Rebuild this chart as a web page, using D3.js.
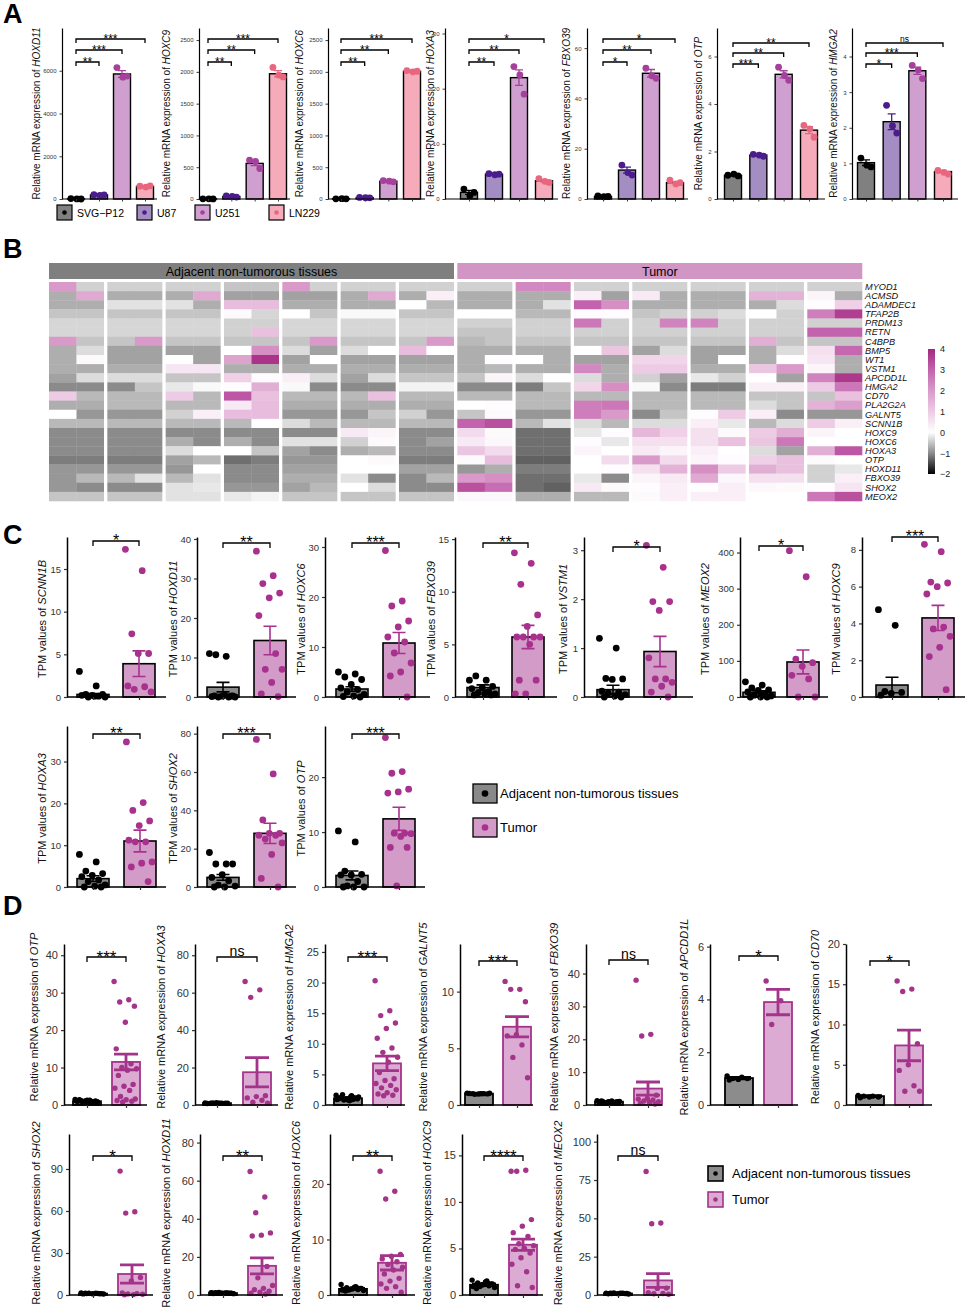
<!DOCTYPE html>
<html lang="en">
<head>
<meta charset="UTF-8">
<title>HOX gene expression figure</title>
<script src="https://cdn.jsdelivr.net/npm/d3@7"></script>
<style>
  body { margin: 0; background: #fff; }
  svg { display: block; font-family: 'Liberation Sans', Arial, sans-serif; }
</style>
</head>
<body>
<script>
// ---------- data: panel A (cell lines) ----------
const cellLines = ['SVG-P12', 'U87', 'U251', 'LN229'];
const aGenes = ['HOXD11', 'HOXC9', 'HOXC6', 'HOXA3', 'FBXO39', 'OTP', 'HMGA2'];
const aTicks = [[0, 2000, 4000, 6000], [0, 500, 1000, 1500, 2000, 2500], [0, 500, 1000, 1500, 2000, 2500],
  [0, 10, 20, 30], [0, 20, 40, 60], [0, 2, 4, 6], [0, 1, 2, 3, 4]];
const aMeans = [[5, 190, 5850, 590], [3, 40, 560, 1970], [4, 22, 280, 2010], [1.2, 4.5, 22, 3.3],
  [1.0, 11.5, 50, 6.5], [1.0, 1.85, 5.25, 2.9], [1.02, 2.17, 3.6, 0.77]];
const aSems = [[2, 12, 160, 25], [1, 5, 35, 50], [1, 3, 10, 12], [0.35, 0.1, 1.4, 0.2],
  [0.1, 1.2, 1.5, 0.4], [0.03, 0.03, 0.15, 0.15], [0.08, 0.22, 0.1, 0.03]];
const aPoints = [
  [[20, 5, 0], [200, 170, 195], [6150, 5700, 5750], [600, 560, 615]],
  [[2, 3, 1], [50, 40, 30], [610, 590, 480], [2070, 1950, 1920]],
  [[3, 5, 2], [25, 20, 18], [290, 280, 270], [2020, 2000, 2010]],
  [[1.8, 0.6, 1.2], [4.6, 4.4, 4.5], [24, 22.5, 19], [3.7, 3.2, 3.0]],
  [[1.2, 0.9, 1.0], [13.5, 10.5, 9.5], [52, 49, 48], [7.5, 6.0, 6.5]],
  [[1.0, 1.05, 0.97], [1.88, 1.85, 1.8], [5.55, 5.2, 5.0], [3.1, 2.95, 2.6]],
  [[1.15, 0.95, 0.9], [2.63, 2.05, 1.85], [3.75, 3.62, 3.38], [0.8, 0.75, 0.7]]
];
const aSig = [['**', '***', '***'], ['**', '**', '***'], ['**', '**', '***'], ['**', '**', '*'],
  ['*', '**', '*'], ['***', '**', '**'], ['*', '***', 'ns']];

// ---------- data: panel B (heatmap, z-scores) ----------
const heatGenes = ['MYOD1', 'ACMSD', 'ADAMDEC1', 'TFAP2B', 'PRDM13', 'RETN', 'C4BPB', 'BMP5', 'WT1', 'VSTM1',
  'APCDD1L', 'HMGA2', 'CD70', 'PLA2G2A', 'GALNT5', 'SCNN1B', 'HOXC9', 'HOXC6', 'HOXA3', 'OTP', 'HOXD11',
  'FBXO39', 'SHOX2', 'MEOX2'];
const heatAdj = [
  [2.0, -0.4, -0.4, -0.4, -0.4, -0.4, -0.5, -0.5, 2.0, -0.4, -0.4, -0.4, -0.4, -0.4],
  [-0.7, 1.7, -0.7, -0.7, -0.7, 1.7, -0.8, -0.8, -0.8, -0.8, -0.7, 1.7, -0.7, 0.3],
  [-0.7, -0.7, -0.25, -0.25, -0.25, -0.7, 1.3, 1.3, -0.7, -0.7, -0.7, -0.7, 0.0, -0.6],
  [-0.5, -0.5, -0.5, -0.5, -0.5, -0.5, 0.1, -0.35, 0.0, -0.5, -0.05, -0.05, -0.5, -0.5],
  [-0.35, -0.35, -0.35, -0.35, -0.35, -0.35, -0.4, -0.4, -0.35, -0.35, -0.35, -0.35, -0.35, -0.35],
  [-0.35, -0.35, -0.35, -0.35, -0.35, -0.35, -0.4, 1.2, -0.35, -0.35, -0.35, -0.35, -0.35, -0.35],
  [2.0, -0.5, -0.5, 2.0, -0.5, -0.5, -0.5, -0.5, -0.5, 2.0, -0.5, -0.5, -0.5, 2.0],
  [-0.7, -0.3, -0.8, -0.8, -0.8, -0.8, 0.0, 2.2, -0.3, -0.8, -0.3, 0.0, 1.3, 0.0],
  [-0.7, 0.1, -0.8, -0.8, 0.0, -0.8, 1.8, 3.8, -0.8, 0.0, -0.8, -0.8, -0.8, -0.8],
  [-0.7, -0.7, -0.7, -0.7, 0.5, 0.5, -0.7, -0.7, -0.7, -0.7, -0.7, -0.7, -0.7, -0.7],
  [-0.8, -0.3, -0.3, -0.3, -0.5, -0.5, 0.9, 0.05, 0.3, -0.3, -0.8, -0.3, -0.5, -0.5],
  [-1.0, -1.0, -1.0, -0.5, -0.2, -0.05, 0.05, 1.6, -0.05, -1.0, -1.0, -1.0, -0.1, -0.1],
  [1.0, -0.6, -0.6, -0.6, 1.0, -0.6, 3.2, 1.2, -0.6, -0.6, -0.6, 1.2, -0.6, -0.6],
  [-0.7, -0.7, -0.6, -0.6, -0.6, -0.6, 0.4, 1.3, -0.7, -0.7, -0.7, -0.7, -0.7, -0.7],
  [0.0, -0.9, -0.9, -0.9, -0.4, 0.3, 1.3, 1.3, -0.9, -0.9, -0.9, -0.5, -0.4, -0.9],
  [-0.6, -0.6, -0.6, -0.6, -0.6, -0.6, -0.6, 0.0, -0.3, -0.6, -0.6, -0.6, -0.6, -0.6],
  [-1.0, -1.0, -1.0, -1.0, -1.0, -1.0, -1.0, -1.0, -1.0, -1.0, 0.4, 0.2, -1.0, -1.0],
  [-1.0, -1.0, -1.0, -1.0, -0.7, -1.0, -0.7, -1.0, -0.25, -0.25, -0.4, 0.1, -1.0, -0.8],
  [-1.0, -1.0, -1.0, -1.0, -0.3, 0.0, 0.0, -0.5, -0.8, -1.0, -0.7, -0.6, -1.0, -1.0],
  [-1.1, -1.1, -1.1, -1.1, -0.8, -0.6, -1.2, -1.1, -0.9, -0.9, 0.0, 0.1, -1.1, -1.1],
  [-0.9, -0.9, -0.9, -0.9, -0.9, 0.0, -1.0, -1.0, -0.8, -0.8, 0.0, 0.0, -0.8, -0.8],
  [-0.9, -0.6, -0.6, -0.25, -0.6, -0.25, -1.0, -1.0, -0.7, -0.7, -0.25, -1.0, -1.0, -0.6],
  [-0.9, -1.0, -1.0, -1.0, -0.25, -0.2, -0.9, -0.9, -0.8, -0.6, 0.0, -0.3, -1.0, -1.0],
  [-0.5, -0.5, -0.5, -0.5, -0.25, -0.25, -0.2, -0.1, -0.5, -0.5, -0.5, -0.5, -0.5, -0.5]
];
const heatTum = [
  [-0.4, -0.4, 2.3, 2.3, -0.4, -0.4, -0.4, -0.4, -0.4, -0.4, -0.4, -0.4, -0.4, -0.4],
  [-0.7, -0.7, -0.7, -0.7, 0.3, -0.8, 0.4, -0.7, -0.7, -0.7, 1.5, 1.5, 0.2, -0.7],
  [-0.7, -0.7, -0.7, -0.25, 3.0, 2.2, -0.7, -0.7, -0.7, -0.7, -0.7, -0.3, 0.05, 0.9],
  [0.0, 0.0, -0.6, -0.6, 0.05, 0.05, -0.5, -0.4, -0.4, -0.3, 0.0, -0.4, 2.5, 3.6],
  [-0.4, -0.4, -0.4, -0.4, 2.6, -0.4, -0.4, 2.4, 2.4, -0.4, -0.4, -0.4, -0.4, -0.4],
  [-0.5, -0.5, -0.4, -0.4, -0.4, -0.4, -0.4, -0.4, -0.4, -0.4, -0.4, -0.4, 3.0, 3.0],
  [-0.6, -0.5, -0.5, -0.5, -0.5, -0.5, -0.5, -0.5, -0.5, -0.5, 1.6, -0.5, -0.5, -0.5],
  [-0.7, -0.7, -0.7, -0.7, 0.0, 1.1, -0.8, -0.3, -0.8, -0.8, -0.7, -0.3, 0.6, 2.9],
  [-0.7, 0.05, 0.0, -0.7, -0.8, -0.8, 0.8, 0.8, -0.8, 0.0, -0.7, 0.0, 0.5, -0.7],
  [-0.7, -0.6, -0.7, -0.7, 2.3, -0.7, 1.0, 1.0, -0.7, -0.7, 1.1, 2.0, 0.2, -0.7],
  [-0.5, 0.2, -0.3, 0.0, -0.3, -0.7, -0.4, -0.8, -0.2, -0.4, 0.0, -0.8, 2.4, 3.7],
  [-1.0, -1.0, -1.1, -0.5, 0.8, 2.2, -0.05, -1.0, -1.1, -1.1, 0.3, 0.3, 1.0, 2.6],
  [-0.6, -0.6, -0.6, -0.6, -0.6, -0.6, -0.6, -0.6, -0.6, -0.6, -0.5, -0.5, -0.5, 1.2],
  [0.0, 0.05, -0.6, -0.6, 2.5, 2.6, -0.6, -0.6, -0.6, -0.6, -0.3, -0.5, 1.5, 1.9],
  [-0.5, 0.1, -0.9, -0.9, 2.5, 2.0, -1.0, -0.5, 0.05, 1.0, 0.3, -1.0, -0.9, -0.9],
  [3.0, 3.3, -0.6, -0.25, -0.3, -0.6, -0.3, -0.3, 0.3, -0.2, -0.6, -0.3, 1.0, 0.3],
  [0.7, 0.1, -1.2, -1.2, -0.2, 0.05, 1.4, 0.9, 0.6, 0.1, 1.0, 1.6, 0.2, 0.0],
  [0.4, 0.15, -1.2, -1.2, 0.05, -0.2, 0.6, 0.6, 0.6, 1.2, 1.1, 2.6, 0.0, 0.0],
  [1.1, 0.7, -1.2, -1.2, 0.2, 0.0, 0.4, 0.2, 0.3, 0.0, -0.3, -0.8, 1.6, 3.2],
  [0.1, 1.3, -1.3, -1.3, 0.0, 0.7, 2.0, 0.7, 0.2, 0.05, 0.9, 1.2, 0.1, 0.0],
  [-0.9, -0.7, -1.1, -1.1, 0.0, 0.05, 0.6, 1.5, 2.2, 1.0, 1.6, 1.2, -0.4, -0.2],
  [2.0, 2.2, -1.2, -1.2, -0.2, -1.0, 0.2, 0.4, 1.7, 0.15, 0.6, 0.6, -0.4, 0.3],
  [3.3, 2.8, -1.2, -1.3, 0.4, 0.1, 0.05, 0.3, 0.05, 0.3, 0.15, 0.1, 0.05, 0.5],
  [0.15, 0.15, -0.7, -0.7, -0.6, -0.6, 0.1, 0.3, 0.3, 0.3, 0.0, 0.0, 2.6, 3.3]
];
const heatLegendTicks = [-2, -1, 0, 1, 2, 3, 4];

// ---------- data: panel C (TPM values) ----------
const tissueGroups = ['Adjacent non-tumorous tissues', 'Tumor'];
const cGenes = ['SCNN1B', 'HOXD11', 'HOXC6', 'FBXO39', 'VSTM1', 'MEOX2', 'HOXC9', 'HOXA3', 'SHOX2', 'OTP'];
const cTicks = [[0, 5, 10, 15], [0, 10, 20, 30, 40], [0, 10, 20, 30], [0, 5, 10, 15], [0, 1, 2, 3],
  [0, 100, 200, 300, 400], [0, 2, 4, 6, 8], [0, 10, 20, 30], [0, 20, 40, 60, 80], [0, 10, 20]];
const cMeans = [[0.3, 3.9], [2.5, 14.3], [1.6, 10.8], [0.9, 5.7], [0.15, 0.93], [13, 97], [0.65, 4.3],
  [2.0, 11.0], [5.0, 28.0], [2.1, 12.4]];
const cSems = [[0.1, 1.5], [1.2, 3.6], [0.45, 2.1], [0.25, 1.1], [0.09, 0.31], [4, 33], [0.42, 0.68],
  [0.7, 2.6], [1.5, 5.3], [0.8, 2.1]];
const cSig = ['*', '**', '***', '**', '*', '*', '***', '**', '***', '***'];
const cAdjPts = [
  [3.0, 1.3, 0.3, 0.3, 0.2, 0.2, 0.1, 0.0, 0.0, 0.1],
  [11, 10.3, 10.7, 0.3, 0.2, 0.1, 0, 0, 0, 0.5, 0.3, 0.2],
  [5.0, 4.6, 4.0, 3.5, 2.5, 1.8, 1.5, 1.0, 0.5, 0.2, 0.1, 0.0],
  [1.6, 1.6, 2.0, 1.0, 0.9, 0.8, 0.5, 0.4, 0.3, 0.3, 0.2, 0.2],
  [1.2, 1.0, 0.38, 0.37, 0.36, 0.12, 0.1, 0.08, 0.05, 0.02, 0, 0],
  [42, 33, 25, 20, 18, 14, 10, 5, 3, 0, 0, 0],
  [4.75, 3.9, 0.3, 0.25, 0.2, 0.1],
  [7.8, 6.0, 3.8, 3.2, 2.8, 2.5, 1.7, 1.3, 0.5, 0.2, 0, 0],
  [18, 12, 12, 12, 6.5, 5, 3.2, 1, 0.5, 0, 0],
  [10.2, 8.2, 2.9, 2.3, 2.2, 2.2, 1.0, 0.2, 0, 0, 0]
];
const cTumPts = [
  [17.3, 14.8, 7.4, 5.1, 5.1, 1.3, 1.2, 0.9, 0.6],
  [36.9, 30.7, 28.7, 26.3, 25.1, 20.6, 11, 7, 7, 3.7, 0.8, 0.1],
  [29.3, 19.2, 18.2, 15.2, 14, 12, 11, 8.8, 6.8, 5, 4.2, 0],
  [13.7, 12.7, 10.7, 7.8, 6.7, 5.7, 5.7, 5.7, 5.7, 5.0, 1.6, 1.6, 0.3, 0.3],
  [3.1, 2.65, 1.95, 1.95, 1.77, 0.8, 0.37, 0.37, 0.3, 0.22, 0.1, 0.0],
  [405, 333, 105, 95, 85, 60, 50, 0, 0],
  [8.3, 7.9, 6.25, 6.2, 6.0, 5.6, 3.8, 3.7, 3.3, 2.7, 2.2, 0.4],
  [34.7, 20.2, 18.3, 15.8, 14.7, 11.2, 10.8, 10.8, 6.0, 5.7, 4.8, 1.3],
  [77, 59, 35, 28, 28, 27, 27, 25, 23, 17, 4.5, 0],
  [27.2, 21, 20.7, 17.8, 17.3, 17.1, 9.8, 9.8, 9.7, 9.2, 7.2, 7.2, 0.2]
];

// ---------- data: panel D (qPCR, clinical samples) ----------
const dGenes = ['OTP', 'HOXA3', 'HMGA2', 'GALNT5', 'FBXO39', 'APCDD1L', 'CD70', 'SHOX2', 'HOXD11', 'HOXC6', 'HOXC9', 'MEOX2'];
const dTicks = [[0, 10, 20, 30, 40], [0, 20, 40, 60, 80], [0, 5, 10, 15, 20, 25], [0, 5, 10], [0, 10, 20, 30, 40],
  [0, 2, 4, 6], [0, 5, 10, 15, 20], [0, 30, 60, 90], [0, 20, 40, 60, 80], [0, 10, 20], [0, 5, 10, 15], [0, 25, 50, 75, 100]];
const dMeans = [[1.0, 11.5], [1.0, 17.5], [1.1, 6.8], [1.0, 6.9], [1.0, 5.0], [1.02, 3.9], [1.1, 7.4],
  [1.0, 15], [1.0, 15.3], [1.1, 5.8], [1.1, 5.4], [1.0, 9.5]];
const dSems = [[0.1, 2.1], [0.05, 7.8], [0.1, 1.2], [0.02, 0.9], [0.05, 2.0], [0.03, 0.48], [0.05, 1.9],
  [0.05, 6.5], [0.05, 4.2], [0.08, 1.3], [0.08, 0.6], [0.05, 4.5]];
const dSig = ['***', 'ns', '***', '***', 'ns', '*', '*', '*', '**', '**', '****', 'ns'];
const dAdjPts = [
  [1.5, 1.3, 1.2, 1.1, 1.0, 1.0, 0.9, 0.9, 0.8, 0.8, 1.4, 0.7, 1.1, 1.2, 0.9, 1.0, 0.8, 1.3, 1.1, 0.9],
  [1.1, 1.0, 0.9, 1.0, 1.2, 0.8, 1.0, 1.1, 0.9, 1.0],
  [1.6, 1.4, 1.2, 1.1, 1.0, 1.0, 0.9, 0.8, 1.3, 0.7, 1.2, 1.1, 1.0, 0.9, 1.5, 1.7, 1.0, 0.8, 1.1, 1.2],
  [1.05, 1.0, 1.0, 0.98, 0.97, 1.02, 1.0, 0.95, 1.03, 1.0],
  [1.3, 1.2, 1.1, 1.0, 1.0, 0.9, 0.8, 0.7, 1.1, 1.0, 1.2, 0.9],
  [1.1, 1.05, 1.0, 1.0, 0.97, 0.95],
  [1.2, 1.1, 1.1, 1.0, 1.0, 0.9],
  [1.5, 1.2, 1.0, 1.0, 0.9, 0.8, 1.1, 1.3, 0.7, 1.0, 1.2, 0.9],
  [1.2, 1.1, 1.0, 1.0, 0.9, 0.8, 1.1, 1.3, 0.7, 1.0, 1.2, 0.9, 1.0, 1.1, 0.9],
  [1.9, 1.5, 1.3, 1.2, 1.1, 1.0, 1.0, 0.9, 0.8, 1.4, 0.7, 1.2, 1.1, 0.9, 1.3, 1.0],
  [1.6, 1.5, 1.3, 1.2, 1.1, 1.0, 1.0, 0.9, 0.8, 1.4, 0.7, 1.2, 1.1, 0.9, 1.3, 1.0],
  [1.2, 1.1, 1.0, 1.0, 0.9, 0.8, 1.1, 1.3, 0.7, 1.0, 1.2, 0.9]
];
const dTumPts = [
  [33, 28.1, 27.5, 26.4, 22.1, 15, 11, 10, 9.7, 9.3, 7.9, 5.5, 5, 4.5, 3.9, 2.3, 1.6, 1.4, 1.2, 1.0, 0.8],
  [66, 61.5, 57.5, 5, 4.5, 3.8, 2.5, 1.5, 1.0],
  [20.3, 15.4, 14.6, 13.4, 12.5, 10.9, 9.3, 8.6, 7.8, 7.0, 5.3, 4.3, 4.0, 3.5, 3.2, 2.8, 2.5, 2.0, 1.8, 1.6, 1.5],
  [10.9, 10.2, 10.2, 9.1, 6.2, 6.1, 5.3, 4.2, 2.4],
  [38, 21.5, 21, 3, 2, 1.8, 1.5, 1.2, 1.0, 0.8, 0.5, 0.3],
  [4.7, 3.95, 3.05],
  [15.4, 14.4, 14.1, 7.6, 5.0, 4.3, 2.4, 1.7, 1.7],
  [88.5, 59.5, 58.5, 12.5, 10, 1.5, 1, 0.8, 0.5, 0.3, 0.2],
  [64.8, 51.4, 43.2, 32.6, 31.4, 31.0, 15, 9, 5, 3.5, 2.8, 2.0, 1.5, 1.0, 0.5],
  [22.3, 18.7, 17.3, 7.3, 7, 6.5, 6, 5.5, 5, 4.5, 3.8, 3, 2.5, 2, 1.5, 1.2, 0.5],
  [13.3, 13.4, 13.3, 8.1, 7.4, 6.7, 6.3, 5.5, 5.3, 5, 4.9, 4.5, 4, 3.3, 2.5, 1.0, 0.8],
  [80.5, 47, 46.5, 4.5, 4.3, 1.5, 1, 0.8, 0.5]
];

// ---------- layout ----------
const W = 969, H = 1313;
const FONT = "'Liberation Sans', Arial, sans-serif";

const aLayout = [
  { axisX: 62, c0: 76, c3: 145, xEnd: 157, max: 8000, labelX: 40, by: [62, 50, 39] },
  { axisX: 199, c0: 208, c3: 278, xEnd: 290, max: 2690, labelX: 170, by: [62, 50, 39] },
  { axisX: 328, c0: 341, c3: 412, xEnd: 425, max: 2690, labelX: 303, by: [62, 50, 39] },
  { axisX: 445, c0: 469, c3: 544, xEnd: 558, max: 31, labelX: 434, by: [62, 50, 39] },
  { axisX: 587, c0: 603, c3: 675, xEnd: 688, max: 68, labelX: 570, by: [62, 50, 39] },
  { axisX: 717, c0: 733, c3: 809, xEnd: 825, max: 7.2, labelX: 702, by: [64, 53, 43] },
  { axisX: 852, c0: 866, c3: 943, xEnd: 958, max: 4.8, labelX: 837, by: [64, 53, 43] }
];
const A_TOP = 28, A_BOTTOM = 199, A_BW = 17;
const aFill = ['#808080', '#a48dc3', '#cfa0cf', '#f5abb9'];
const aDot = ['#000000', '#4b1c8c', '#a5409c', '#e9667f'];
const aOffsets = [-0.3, 0.05, 0.3];

const cRows = [{ top: 537, bottom: 697 }, { top: 726, bottom: 887 }];
const cLayout = [
  { row: 0, axisX: 67, c0: 93, c1: 139, xEnd: 166, max: 18.75, labelX: 46, by: 541 },
  { row: 0, axisX: 197, c0: 223, c1: 270, xEnd: 296, max: 40.5, labelX: 177, by: 543 },
  { row: 0, axisX: 325, c0: 352, c1: 399, xEnd: 430, max: 32, labelX: 305, by: 543 },
  { row: 0, axisX: 455, c0: 483, c1: 528, xEnd: 557, max: 15.2, labelX: 435, by: 543 },
  { row: 0, axisX: 584, c0: 613, c1: 660, xEnd: 693, max: 3.27, labelX: 567, by: 547 },
  { row: 0, axisX: 740, c0: 759, c1: 803, xEnd: 828, max: 443, labelX: 709, by: 546 },
  { row: 0, axisX: 862, c0: 892, c1: 938, xEnd: 965, max: 8.7, labelX: 840, by: 537 },
  { row: 1, axisX: 67, c0: 93, c1: 140, xEnd: 166, max: 38.5, labelX: 46, by: 734 },
  { row: 1, axisX: 197, c0: 223, c1: 270, xEnd: 296, max: 84, labelX: 177, by: 734 },
  { row: 1, axisX: 325, c0: 352, c1: 399, xEnd: 425, max: 29.3, labelX: 305, by: 734 }
];

const dRows = [{ top: 944, bottom: 1105, labelY: 1017 }, { top: 1134, bottom: 1295, labelY: 1213 }];
const dLayout = [
  { row: 0, axisX: 64, c0: 87, c1: 126, xEnd: 147, max: 43, labelX: 38, by: 957 },
  { row: 0, axisX: 195, c0: 217, c1: 257, xEnd: 278, max: 86, labelX: 165, by: 957 },
  { row: 0, axisX: 325, c0: 348, c1: 387, xEnd: 405, max: 26.3, labelX: 293, by: 957 },
  { row: 0, axisX: 460, c0: 479, c1: 517, xEnd: 533, max: 14.2, labelX: 427, by: 961 },
  { row: 0, axisX: 586, c0: 609, c1: 648, xEnd: 662, max: 49, labelX: 558, by: 960 },
  { row: 0, axisX: 710, c0: 739, c1: 778, xEnd: 798, max: 6.1, labelX: 688, by: 956 },
  { row: 0, axisX: 846, c0: 870, c1: 909, xEnd: 932, max: 20, labelX: 819, by: 961 },
  { row: 1, axisX: 69, c0: 93, c1: 132, xEnd: 153, max: 115, labelX: 40, by: 1156 },
  { row: 1, axisX: 200, c0: 223, c1: 262, xEnd: 283, max: 84.5, labelX: 170, by: 1156 },
  { row: 1, axisX: 330, c0: 353, c1: 392, xEnd: 415, max: 29, labelX: 300, by: 1156 },
  { row: 1, axisX: 462, c0: 484, c1: 523, xEnd: 543, max: 17.3, labelX: 431, by: 1156 },
  { row: 1, axisX: 597, c0: 618, c1: 658, xEnd: 675, max: 105, labelX: 562, by: 1156 }
];

const svg = d3.select('body').append('svg')
  .attr('width', W).attr('height', H)
  .style('font-family', FONT);
svg.append('rect').attr('width', W).attr('height', H).attr('fill', '#fff');

// ---------- helpers ----------
// deterministic spread of points across a bar
const jit = i => ((i * 0.6180339887) % 1) - 0.5;
const minusFmt = d => (d < 0 ? '\u2212' + Math.abs(d) : String(d));

function panelLetter(txt, x, y) {
  svg.append('text').attr('x', x).attr('y', y)
    .style('font-size', '27px').style('font-weight', 'bold').text(txt);
}

function yLabel(g, x, y, prefix, gene, size) {
  const t = g.append('text')
    .attr('transform', `translate(${x},${y}) rotate(-90)`)
    .attr('text-anchor', 'middle')
    .style('font-size', size + 'px').attr('fill', '#111');
  t.append('tspan').text(prefix);
  t.append('tspan').style('font-style', 'italic').text(gene);
}

// significance bracket; stars are set bigger than "ns" as in the original
function bracket(g, x1, x2, yb, label, starFs, nsFs, drop) {
  g.append('path')
    .attr('d', `M${x1},${yb + drop}V${yb}H${x2}V${yb + drop}`)
    .attr('fill', 'none').attr('stroke', '#000').attr('stroke-width', 1.3);
  const star = label[0] === '*';
  const fs = star ? starFs : nsFs;
  g.append('text')
    .attr('x', (x1 + x2) / 2)
    .attr('y', star ? yb + fs * 0.33 : yb - 1.5)
    .attr('text-anchor', 'middle')
    .style('font-size', fs + 'px')
    .text(label);
}

function styleAxis(sel, fs, lw) {
  sel.select('.domain').attr('stroke', '#000').attr('stroke-width', lw);
  sel.selectAll('.tick line').attr('stroke', '#333').attr('stroke-width', lw * 0.8);
  sel.selectAll('.tick text').style('font-size', fs + 'px').style('font-family', FONT).attr('fill', '#333');
}

function xAxisLine(g, x0, x1, yb, xScale, lw, tick) {
  g.append('line').attr('x1', x0).attr('x2', x1).attr('y1', yb).attr('y2', yb)
    .attr('stroke', '#000').attr('stroke-width', lw);
  const ax = g.append('g').attr('transform', `translate(0,${yb})`)
    .call(d3.axisBottom(xScale).tickFormat('').tickSize(tick).tickSizeOuter(0));
  ax.select('.domain').remove();
  ax.selectAll('.tick line').attr('stroke', '#333').attr('stroke-width', lw * 0.8);
}

function errorBar(g, cx, y, mean, sem, capW, color, lw) {
  const lo = y(Math.max(0, mean - sem)), hi = y(mean + sem);
  g.append('path')
    .attr('d', `M${cx},${lo}V${hi}M${cx - capW / 2},${hi}H${cx + capW / 2}M${cx - capW / 2},${lo}H${cx + capW / 2}`)
    .attr('fill', 'none').attr('stroke', color).attr('stroke-width', lw);
}

// ---------- Panel A ----------
panelLetter('A', 3, 23);

aGenes.forEach((gene, k) => {
  const L = aLayout[k];
  const g = svg.append('g');
  const y = d3.scaleLinear().domain([0, L.max]).range([A_BOTTOM, A_TOP]);
  const x = d3.scalePoint().domain(cellLines).range([L.c0, L.c3]);

  g.selectAll('rect.bar').data(aMeans[k]).join('rect')
    .attr('x', (d, i) => x(cellLines[i]) - A_BW / 2)
    .attr('y', d => y(d))
    .attr('width', A_BW)
    .attr('height', d => A_BOTTOM - y(d))
    .attr('fill', (d, i) => aFill[i])
    .attr('stroke', '#000').attr('stroke-width', 1.4);

  aMeans[k].forEach((m, i) => errorBar(g, x(cellLines[i]), y, m, aSems[k][i], 8, aDot[i], 1.3));

  aPoints[k].forEach((pts, i) => {
    g.selectAll(null).data(pts).join('circle')
      .attr('cx', (d, j) => x(cellLines[i]) + aOffsets[j] * A_BW)
      .attr('cy', d => y(d))
      .attr('r', 3.4)
      .attr('fill', aDot[i]);
  });

  const ya = g.append('g').attr('transform', `translate(${L.axisX},0)`)
    .call(d3.axisLeft(y).tickValues(aTicks[k]).tickFormat(d => d).tickSize(2.5).tickSizeOuter(0));
  styleAxis(ya, 6, 1.2);
  xAxisLine(g, L.axisX, L.xEnd, A_BOTTOM, x, 1.2, 2.5);

  aSig[k].forEach((s, i) => bracket(g, x(cellLines[0]), x(cellLines[i + 1]), L.by[i], s, 12, 8.5, 4));

  yLabel(g, L.labelX, (A_TOP + A_BOTTOM) / 2, 'Relative mRNA expression of ', gene, 10);
});

// legend A
const aLegX = [57, 137, 195, 269];
cellLines.forEach((c, i) => {
  const lg = svg.append('g').attr('transform', `translate(${aLegX[i]},205)`);
  lg.append('rect').attr('width', 15).attr('height', 15)
    .attr('fill', aFill[i]).attr('stroke', '#000').attr('stroke-width', 1.2);
  lg.append('circle').attr('cx', 7.5).attr('cy', 7.5).attr('r', 2.3).attr('fill', aDot[i]);
  lg.append('text').attr('x', 20).attr('y', 12).style('font-size', '10.5px').text(c.replace('-', '\u2212'));
});

// ---------- Panel B ----------
panelLetter('B', 3, 258);

const hx = d3.scaleBand().domain(d3.range(14)).range([49, 862.3]).paddingInner(0.057);
const hy = d3.scaleBand().domain(heatGenes).range([282, 501]);
const heatColor = d3.scaleLinear()
  .domain(heatLegendTicks)
  .range(['#000000', '#8b8b8b', '#ffffff', '#edcbe4', '#d99ac9', '#c362ad', '#a3287f'])
  .clamp(true);

const hg = svg.append('g');
const halfW = hx.bandwidth() / 2;
heatGenes.forEach((gene, r) => {
  for (let gi = 0; gi < 14; gi++) {
    for (let c = 0; c < 2; c++) {
      const v = gi < 7 ? heatAdj[r][gi * 2 + c] : heatTum[r][(gi - 7) * 2 + c];
      hg.append('rect')
        .attr('x', hx(gi) + c * halfW)
        .attr('y', hy(gene))
        .attr('width', halfW + (c === 0 ? 0.3 : 0))
        .attr('height', hy.bandwidth() + 0.3)
        .attr('fill', heatColor(v));
    }
  }
  hg.append('text')
    .attr('x', 865).attr('y', hy(gene) + hy.bandwidth() / 2 + 3.3)
    .style('font-size', '9.2px').style('font-style', 'italic').attr('fill', '#111')
    .text(gene);
});

// column annotation bars
const annX0 = hx(0), annX1 = hx(6) + hx.bandwidth();
const annT0 = hx(7), annT1 = hx(13) + hx.bandwidth();
hg.append('rect').attr('x', annX0).attr('y', 263).attr('width', annX1 - annX0).attr('height', 16).attr('fill', '#7f7f7f');
hg.append('rect').attr('x', annT0).attr('y', 263).attr('width', annT1 - annT0).attr('height', 16).attr('fill', '#d296c4');
hg.append('text').attr('x', (annX0 + annX1) / 2).attr('y', 275.5).attr('text-anchor', 'middle')
  .style('font-size', '12.5px').text(tissueGroups[0]);
hg.append('text').attr('x', (annT0 + annT1) / 2).attr('y', 275.5).attr('text-anchor', 'middle')
  .style('font-size', '12.5px').text(tissueGroups[1]);

// colour key
const keyY = d3.scaleLinear().domain([-2, 4]).range([474, 349]);
const grad = svg.append('defs').append('linearGradient').attr('id', 'heatGrad')
  .attr('x1', 0).attr('y1', 1).attr('x2', 0).attr('y2', 0);
heatLegendTicks.forEach(v => grad.append('stop')
  .attr('offset', (v + 2) / 6).attr('stop-color', heatColor(v)));
svg.append('rect').attr('x', 928).attr('y', 349).attr('width', 7).attr('height', 125).attr('fill', 'url(#heatGrad)');
const ka = svg.append('g').attr('transform', 'translate(935,0)')
  .call(d3.axisRight(keyY).tickValues(heatLegendTicks).tickFormat(minusFmt).tickSize(2).tickSizeOuter(0));
ka.select('.domain').remove();
ka.selectAll('.tick line').attr('stroke', '#fff');
ka.selectAll('.tick text').style('font-size', '9px').style('font-family', FONT).attr('fill', '#222');

// ---------- Panels C and D: two-group bar charts ----------
function twoGroup(L, rowGeom, labelY, st, gene, ticks, means, sems, adjPts, tumPts, sig) {
  const g = svg.append('g');
  const y = d3.scaleLinear().domain([0, L.max]).range([rowGeom.bottom, rowGeom.top]);
  const x = d3.scalePoint().domain(tissueGroups).range([L.c0, L.c1]);
  const fills = [st.adjFill, st.tumFill], strokes = ['#000', st.tumStroke];

  g.selectAll('rect.bar').data(means).join('rect')
    .attr('x', (d, i) => x(tissueGroups[i]) - st.bw / 2)
    .attr('y', d => y(d))
    .attr('width', st.bw)
    .attr('height', d => rowGeom.bottom - y(d))
    .attr('fill', (d, i) => fills[i])
    .attr('stroke', (d, i) => strokes[i]).attr('stroke-width', st.barLw);

  [adjPts, tumPts].forEach((pts, i) => {
    g.selectAll(null).data(pts).join('circle')
      .attr('cx', (d, j) => x(tissueGroups[i]) + jit(j) * st.bw * 0.85)
      .attr('cy', d => y(d))
      .attr('r', st.r)
      .attr('fill', i === 0 ? '#000' : st.dot);
  });

  errorBar(g, x(tissueGroups[0]), y, means[0], sems[0], st.capW, '#000', st.errLw);
  errorBar(g, x(tissueGroups[1]), y, means[1], sems[1], st.capW, st.dot, st.errLw);

  const ya = g.append('g').attr('transform', `translate(${L.axisX},0)`)
    .call(d3.axisLeft(y).tickValues(ticks).tickFormat(d => d).tickSize(3).tickSizeOuter(0));
  styleAxis(ya, st.tickFs, 1.5);
  xAxisLine(g, L.axisX, L.xEnd, rowGeom.bottom, x, 1.5, 3);

  bracket(g, x(tissueGroups[0]), x(tissueGroups[1]), L.by, sig, st.starFs, st.nsFs, 5);
  yLabel(g, L.labelX, labelY, st.prefix, gene, 11);
}

panelLetter('C', 3, 544);
const cStyle = {
  adjFill: '#898989', tumFill: '#d39bc8', tumStroke: '#000', dot: '#a8318e',
  bw: 32, barLw: 1.6, r: 3.4, capW: 13, errLw: 1.6, tickFs: 9.5, starFs: 16, nsFs: 13,
  prefix: 'TPM values of '
};
cGenes.forEach((gene, k) => {
  const L = cLayout[k];
  const R = cRows[L.row];
  twoGroup(L, R, (R.top + R.bottom) / 2 + 2, cStyle, gene, cTicks[k], cMeans[k], cSems[k], cAdjPts[k], cTumPts[k], cSig[k]);
});

// legend C
const cLeg = svg.append('g');
[['#898989', '#000', '#000'], ['#d39bc8', '#000', '#a8318e']].forEach((c, i) => {
  const yy = 784 + i * 34;
  cLeg.append('rect').attr('x', 473).attr('y', yy).attr('width', 24).attr('height', 19)
    .attr('fill', c[0]).attr('stroke', c[1]).attr('stroke-width', 1.3);
  cLeg.append('circle').attr('cx', 485).attr('cy', yy + 9.5).attr('r', 3.3).attr('fill', c[2]);
  cLeg.append('text').attr('x', 500).attr('y', yy + 14).style('font-size', '13px').text(tissueGroups[i]);
});

panelLetter('D', 3, 915);
const dStyle = {
  adjFill: '#8c8c8c', tumFill: '#dcabd3', tumStroke: '#a3348a', dot: '#a3348a',
  bw: 28, barLw: 1.8, r: 2.7, capW: 24, errLw: 2.8, tickFs: 11, starFs: 17, nsFs: 14,
  prefix: 'Relative mRNA expression of '
};
dGenes.forEach((gene, k) => {
  const L = dLayout[k];
  const R = dRows[L.row];
  twoGroup(L, R, R.labelY, dStyle, gene, dTicks[k], dMeans[k], dSems[k], dAdjPts[k], dTumPts[k], dSig[k]);
});

// legend D
const dLeg = svg.append('g');
[['#8c8c8c', '#000', '#000'], ['#dcabd3', '#a3348a', '#a3348a']].forEach((c, i) => {
  const yy = 1166 + i * 26;
  dLeg.append('rect').attr('x', 708).attr('y', yy).attr('width', 15).attr('height', 15)
    .attr('fill', c[0]).attr('stroke', c[1]).attr('stroke-width', 1.6);
  dLeg.append('circle').attr('cx', 715.5).attr('cy', yy + 7.5).attr('r', 2.3).attr('fill', c[2]);
  dLeg.append('text').attr('x', 732).attr('y', yy + 12).style('font-size', '13px').text(tissueGroups[i]);
});
</script>
</body>
</html>
